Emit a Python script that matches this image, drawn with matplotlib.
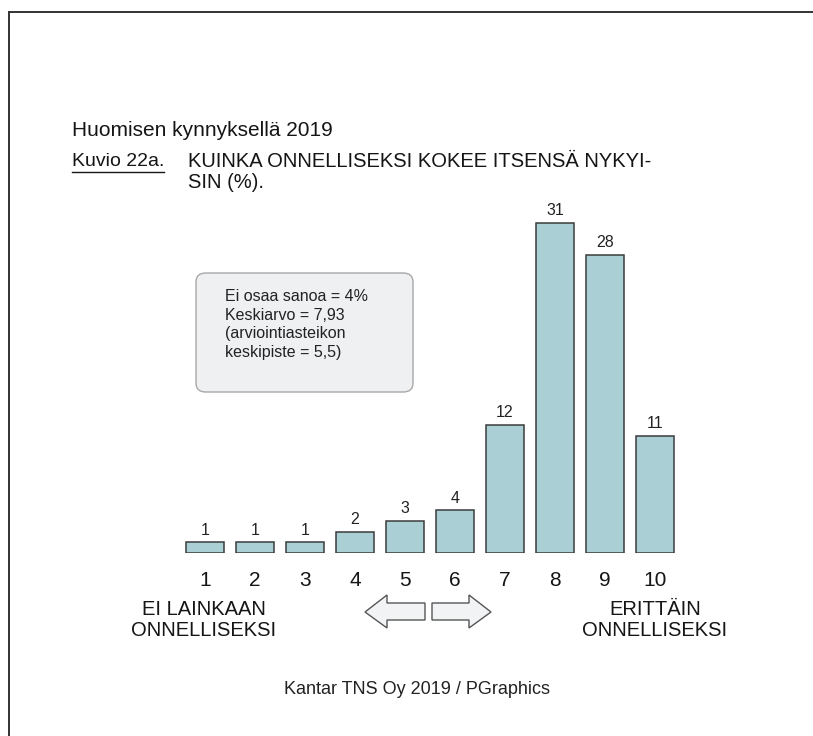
import matplotlib
matplotlib.use("Agg")
import matplotlib.pyplot as plt
from matplotlib.lines import Line2D
from matplotlib.patches import FancyBboxPatch, Polygon

# --- data ---
scale_points = [1, 2, 3, 4, 5, 6, 7, 8, 9, 10]
shares = [1, 1, 1, 2, 3, 4, 12, 31, 28, 11]

title_top = "Huomisen kynnyksellä 2019"
fig_label = "Kuvio 22a."
question = "KUINKA ONNELLISEKSI KOKEE ITSENSÄ NYKYI-\nSIN (%)."
info_lines = "Ei osaa sanoa = 4%\nKeskiarvo = 7,93\n(arviointiasteikon\nkeskipiste = 5,5)"
low_label = "EI LAINKAAN\nONNELLISEKSI"
high_label = "ERITTÄIN\nONNELLISEKSI"
source = "Kantar TNS Oy 2019 / PGraphics"

FONT = ["Liberation Sans", "DejaVu Sans"]
BAR_COLOR = "#aacfd5"
EDGE = "#3c3c3c"
INK = "#151515"

W, H = 813, 736
fig = plt.figure(figsize=(W / 100, H / 100), dpi=100)


def px(x, y):
    # pixel position (from top-left) -> figure fraction
    return x / W, 1 - y / H


# axes: x range 0.5..10.5 over pixels 180..680, baseline at y=553, 31 -> y=223
ymax = 35
unit = (553 - 223) / 31
ax = fig.add_axes([180 / W, (H - 553) / H, 500 / W, ymax * unit / H])
ax.bar(scale_points, shares, width=0.76, color=BAR_COLOR, edgecolor=EDGE, linewidth=1.1)
for x, v in zip(scale_points, shares):
    ax.text(x, v + 0.45, str(v), ha="center", va="bottom", fontsize=11.5,
            family=FONT, color="#222222")
ax.set_xlim(0.5, 10.5)
ax.set_ylim(0, ymax)
ax.set_xticks(scale_points)
ax.set_xticklabels([str(s) for s in scale_points], fontsize=15, family=FONT, color=INK)
ax.tick_params(axis="x", length=0, pad=13)
ax.set_yticks([])
for s in ax.spines.values():
    s.set_visible(False)
ax.patch.set_alpha(0)

# frame lines (top and left)
fig.add_artist(Line2D([px(9, 12)[0], 1.0], [px(9, 12)[1]] * 2, transform=fig.transFigure,
                      color="#333333", lw=1.4))
fig.add_artist(Line2D([px(9, 12)[0]] * 2, [px(9, 12)[1], 0.0], transform=fig.transFigure,
                      color="#333333", lw=1.4))

# titles
fig.text(*px(72, 131), title_top, fontsize=15, family=FONT, va="center", ha="left", color=INK)
lab = fig.text(*px(72, 162), fig_label, fontsize=14, family=FONT, va="center", ha="left", color=INK)
fig.text(*px(188, 152), question, fontsize=14.5, family=FONT, va="top", ha="left",
         linespacing=1.15, color=INK)

# info box
x0, y0 = px(196, 392)
x1, y1 = px(413, 273)
fig.add_artist(FancyBboxPatch((x0, y0), x1 - x0, y1 - y0, boxstyle="round,pad=0,rounding_size=0.012",
                              transform=fig.transFigure, facecolor="#eff0f2", edgecolor="#a8a8a8", lw=1.0))
fig.text(*px(225, 289), info_lines, fontsize=11.5, family=FONT, va="top", ha="left",
         linespacing=1.3, color="#222222")

# scale end labels
fig.text(*px(204, 620), low_label, fontsize=14.5, family=FONT, ha="center", va="center",
         linespacing=1.15, multialignment="center", color=INK)
fig.text(*px(655, 620), high_label, fontsize=14.5, family=FONT, ha="center", va="center",
         linespacing=1.15, multialignment="center", color=INK)

# arrows
left_arrow = [(365, 612), (387, 595), (387, 603), (425, 603), (425, 620), (387, 620), (387, 628)]
right_arrow = [(491, 612), (469, 595), (469, 603), (432, 603), (432, 620), (469, 620), (469, 628)]
for pts in (left_arrow, right_arrow):
    fig.add_artist(Polygon([px(*p) for p in pts], closed=True, transform=fig.transFigure,
                           facecolor="#f2f3f4", edgecolor="#555555", lw=1.0))

fig.text(*px(417, 689), source, fontsize=13, family=FONT, ha="center", va="center", color="#222222")

# underline under figure label
fig.canvas.draw()
bb = lab.get_window_extent(fig.canvas.get_renderer())
fig.add_artist(Line2D([bb.x0 / W, bb.x1 / W], [(bb.y0 - 1) / H] * 2, transform=fig.transFigure,
                      color=INK, lw=1.0))

fig.savefig("out.png", dpi=100)
plt.close(fig)
